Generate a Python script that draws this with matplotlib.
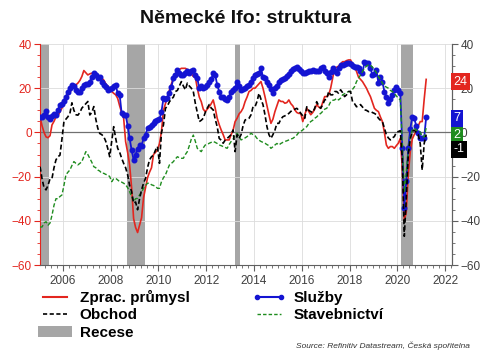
import numpy as np
import pandas as pd
import matplotlib
matplotlib.use('Agg')
import matplotlib.pyplot as plt
import matplotlib.transforms as mtransforms
from matplotlib.patches import Patch
from matplotlib.lines import Line2D
from matplotlib.ticker import MultipleLocator

plt.rcParams['font.family'] = ['Liberation Sans', 'DejaVu Sans']

# Ifo business climate by sector, monthly 2005-01 .. 2021-03
prumysl = [
    7, 3, 0, -2, -2.4, -1.5, 3.4, 5, 7, 7.5, 9.4, 11,                   # 2005
    12.6, 15, 17, 18, 20, 20.5, 21.5, 22.3, 23.5, 25.3, 28, 27,          # 2006
    26, 26.5, 26.8, 26, 25, 26, 25, 24.5, 23.7, 22, 21, 20,              # 2007
    18.5, 17.7, 17, 15.4, 12, 9, 6.4, -4.2, -9, -14.7, -25, -39,         # 2008
    -43, -45.3, -42, -38.6, -29.5, -25, -20.5, -18, -16, -10, -9, -8,    # 2009
    -5, 0.4, 10, 13, 16, 19.2, 22, 24.5, 26, 28.3, 28.5, 29,             # 2010
    29, 29, 28.5, 27.6, 26.5, 25.3, 25, 20, 16, 13.9, 10.5, 9.4,         # 2011
    10.5, 11.6, 13, 14.7, 11, 6.4, 3.5, 1.1, -1, -3.4, -3.4, -3.4,       # 2012
    -1, 1, 4.9, 6.4, 8.4, 9.4, 11, 13.9, 16, 18.5, 19, 20,               # 2013
    20, 21, 22, 23, 20, 16.2, 12, 8, 4.1, 6, 9.4, 12,                    # 2014
    14.7, 14, 14, 13.2, 13.5, 14.7, 13, 12, 10.2, 9, 8.6, 8.6,           # 2015
    4.9, 8, 10.9, 9.5, 8, 9, 10.5, 12.6, 11.5, 10.9, 13.5, 16.2,         # 2016
    16.2, 17, 20, 24.5, 29, 29.5, 30, 31, 32, 32, 32.5, 32.8,            # 2017
    32.8, 31, 29.5, 27.6, 25, 24, 23, 21.5, 20, 18, 16.2, 13.5,          # 2018
    10.9, 10, 9.4, 7, 4.9, 0, -5.7, -7.2, -6.4, -6.4, -7.2, -6,          # 2019
    -4.9, -2.7, -16, -40, -36, -19, -8.7, -3, -1, 0.4, 3, 4.9,           # 2020
    4.9, 15, 24,                                                         # 2021
]

sluzby = [
    7, 7, 8, 9.5, 7, 6, 7.5, 8.3, 8, 10, 12.6, 13,                       # 2005
    14, 16, 18.5, 20, 21.5, 21, 19, 18.5, 18.5, 20, 21.5, 22,            # 2006
    22, 23, 25, 26.8, 26, 24.5, 25, 23, 21.5, 20.5, 19.3, 19.5,          # 2007
    20, 21, 21.5, 17.7, 17, 8.6, 8, 8, 3, -2.7, -8, -12.4,               # 2008
    -10, -7.3, -5.7, -6, -2.7, -1, 1.9, 2.5, 3.5, 4.1, 5, 5.6,           # 2009
    6, 9.4, 15.4, 15, 15.4, 18, 20.7, 24.5, 26, 28.3, 27, 26,            # 2010
    26, 27, 27.6, 27, 28, 28.3, 26, 24.5, 20, 21, 20, 20.7,              # 2011
    21.5, 23, 24, 26.8, 26, 21.5, 18.5, 16.2, 16, 15, 14.7, 16,          # 2012
    18.5, 19, 20, 23, 21, 19, 19.5, 20, 21, 21.5, 23, 24.5,              # 2013
    26, 26.5, 27, 29, 25, 24.5, 23, 21.5, 19.5, 17.7, 20, 21,            # 2014
    23, 23.5, 24, 24.5, 25.5, 26.5, 27.6, 28.5, 29, 29.8, 28.5, 28,      # 2015
    26.8, 27, 27.5, 27.6, 28, 28.3, 28, 27.6, 28, 29, 29.8, 28,          # 2016
    27, 25.3, 27.5, 29, 28, 27, 29, 30.5, 30.5, 31, 31.3, 31.5,          # 2017
    31, 30, 29.8, 29.5, 29, 28, 26.8, 32, 31.5, 31.3, 29, 26,            # 2018
    26.5, 28.3, 22.3, 25.3, 23, 18.5, 16, 13.2, 15, 17, 19, 20.7,        # 2019
    19, 17.7, -7, -34, -22, -7, 1.6, 6.8, 6.4, 3, -0.4, -2.4,            # 2020
    -2.4, -2.4, 7,                                                       # 2021
]

obchod = [
    -15.5, -21, -25, -26, -24, -21, -20.8, -16, -12.4, -11, -10.3, -3,   # 2005
    4.9, 6, 7.1, 8.6, 13.4, 10, 8, 7.8, 9, 11, 12, 13,                   # 2006
    14, 7.9, 9, 11.7, 6, 1.9, -0.5, -1, -1.9, -4, -7.2, -11,             # 2007
    -4, 2.6, -2.7, -7.2, -9, -11.7, -14, -16, -19.2, -24, -26.8, -32,    # 2008
    -31.5, -35, -30, -26, -23, -20.8, -16, -12.4, -11, -10.3, -8, -6.4,  # 2009
    -14, 0, 3.4, 10.9, 12, 13.9, 15, 16, 18.5, 19, 21, 23,               # 2010
    21, 19.3, 22.3, 21, 20, 18.5, 13.2, 9, 4.9, 5.5, 6.4, 9,             # 2011
    11, 12.6, 11, 10.2, 6, 2.6, -2.7, -3.5, -4.9, -3.5, -2.7, -1.9,      # 2012
    -1, 1.1, -8.7, -1, -2.7, -1, 3, 5.6, 6, 6.4, 8, 11.6,                # 2013
    11.6, 14, 17.7, 15, 12.6, 8, 2.6, -1, -2.7, -1, 1, 4.1,              # 2014
    4.1, 6, 7.1, 7.5, 8, 8.6, 9.5, 10.2, 10.5, 10.9, 10, 8.6,            # 2015
    7.5, 6.4, 11.6, 10, 9.4, 9, 11, 13.9, 12, 10.9, 12.5, 14.7,          # 2016
    15, 18.5, 17, 17, 18.5, 18.5, 17.7, 19.3, 18, 16.2, 17, 18.5,        # 2017
    18.5, 13.9, 13, 11.6, 12, 12.6, 11.5, 10.2, 10, 9.4, 9.5, 9,         # 2018
    8.6, 8, 6.4, 5.5, 4.9, 2, -1.1, -2.5, -3.4, -2.5, -1.9, 0,           # 2019
    0.4, 0.8, -11.7, -47, -30, -10, -3, 0.4, 1, 0, -1.1, -5,             # 2020
    -17, -5, -1,                                                         # 2021
]

stavebnictvi = [
    -42.8, -42.8, -41, -40.4, -42, -41, -37.5, -33, -30, -30, -29, -28.3,        # 2005
    -24, -19.2, -18, -17, -15, -13.2, -14, -14.7, -14, -13.2, -11, -8.7,         # 2006
    -10, -11.7, -13.5, -15.5, -16, -17, -17.5, -18.5, -18.5, -19, -19.2, -20,    # 2007
    -22.3, -21, -20.8, -21.5, -22.3, -22.5, -23, -23.7, -25, -26.8, -29, -31.3,  # 2008
    -30, -29.8, -28.3, -27, -25.3, -24, -23, -23, -23.7, -24, -24.5, -25.3,      # 2009
    -25.3, -22.3, -20.5, -19.2, -17, -14.7, -14, -13.2, -12, -11, -11.5, -11.7,  # 2010
    -11.7, -10, -8.7, -6, -3, -1.2, -4, -7.2, -8, -8.7, -7, -5.7,                # 2011
    -5.5, -4.9, -4.5, -4.1, -4.5, -5, -5.7, -6, -6.4, -6.8, -7.2, -5.5,          # 2012
    -4.1, -3, -1.2, -0.4, -1.9, -3.4, -3, -2.5, -1.9, -1.2, -0.4, -1,            # 2013
    -1.5, -2.7, -3.5, -4.1, -4.5, -4.9, -5.5, -6, -7.2, -6.5, -5.7, -5,          # 2014
    -5.7, -5, -4.5, -4.1, -3.8, -3.4, -3, -2.7, -2, -1.2, 0, 0.5,                # 2015
    1.1, 2, 2.6, 4, 4.9, 5.5, 6.4, 7, 8, 8.6, 9.5, 10.5,                         # 2016
    10.9, 12, 13.9, 14.5, 14.7, 15.4, 14.7, 15.5, 17, 17.5, 18, 18.5,            # 2017
    18.5, 19.5, 20.7, 23, 24.5, 26, 27.5, 29, 30, 30.5, 30.5, 29.5,              # 2018
    28.3, 27, 25.3, 24, 22.3, 21, 20.5, 20, 19, 18.5, 17.7, 16.5,                # 2019
    15.5, 14.7, -5, -27, -18, -8, -2, 1, 2, 1, 1, 0,                             # 2020
    -2, -2, 2,                                                                   # 2021
]

# recession periods (decimal years)
recese_od = [2005.0, 2008.69, 2013.2, 2020.17]
recese_do = [2005.41, 2009.43, 2013.42, 2020.66]

# last values shown in the boxes on the right
posledni = ['24', '7', '2', '-1']

months = pd.date_range('2005-01-01', periods=len(prumysl), freq='MS')
t = np.asarray(months.year + (months.month - 0.5) / 12)

RED = '#e3261f'
BLUE = '#1414d2'
GREEN = '#1e8c1e'
BLACK = '#000000'
GRAY_TXT = '#404040'

fig = plt.figure(figsize=(4.91, 3.57), dpi=100)
ax = fig.add_axes([0.0815, 0.2577, 0.8391, 0.619])

for s, e in zip(recese_od, recese_do):
    ax.axvspan(s, e, color='#a6a6a6', lw=0, zorder=0.5)

ax.axhline(0, color='#707070', lw=0.9, zorder=0.8)

ax.plot(t, prumysl, color=RED, lw=1.2, zorder=2)
ax.plot(t, sluzby, color=BLUE, lw=1.3, marker='o', ms=3.3, zorder=3)
ax.plot(t, stavebnictvi, color=GREEN, lw=1.0, dashes=(3, 1.6), zorder=4)
ax.plot(t, obchod, color=BLACK, lw=1.2, dashes=(3, 1.6), zorder=5)

ax.set_xlim(2005.04, 2022.29)
ax.set_ylim(-60, 40)
ax.xaxis.set_major_locator(MultipleLocator(2))
ax.xaxis.set_minor_locator(MultipleLocator(0.25))
ax.yaxis.set_major_locator(MultipleLocator(20))
ax.yaxis.set_minor_locator(MultipleLocator(5))
ax.grid(True, which='major', color='#dcdcdc', lw=0.6, zorder=0)
ax.set_axisbelow(True)

ax.spines['top'].set_visible(False)
ax.spines['left'].set_color(RED)
ax.spines['right'].set_color('#606060')
ax.spines['bottom'].set_color('#606060')
ax.tick_params(axis='y', which='both', colors=RED, labelsize=8.5, pad=2)
ax.tick_params(axis='y', which='major', length=4)
ax.tick_params(axis='y', which='minor', length=2)
ax.tick_params(axis='x', which='both', colors='#606060', labelcolor=GRAY_TXT,
               labelsize=8.5)
ax.tick_params(axis='x', which='major', length=4)
ax.tick_params(axis='x', which='minor', length=2)

ax2 = ax.twinx()
ax2.set_ylim(ax.get_ylim())
ax2.yaxis.set_major_locator(MultipleLocator(20))
ax2.yaxis.set_minor_locator(MultipleLocator(5))
for sp in ['top', 'left', 'bottom']:
    ax2.spines[sp].set_visible(False)
ax2.spines['right'].set_color('#606060')
ax2.tick_params(axis='y', which='both', colors='#606060', labelcolor=GRAY_TXT,
                labelsize=8.5, pad=2)
ax2.tick_params(axis='y', which='major', length=4)
ax2.tick_params(axis='y', which='minor', length=2)

# boxes with the latest values
trans = mtransforms.blended_transform_factory(ax2.transAxes, ax2.transData)
box_y = [23, 6.3, -1.3, -7.7]
for txt, y, c in zip(posledni, box_y, [RED, BLUE, GREEN, BLACK]):
    ax2.text(1.004, y, txt, transform=trans, ha='left', va='center',
             color='white', fontsize=9, zorder=10, clip_on=False,
             bbox=dict(boxstyle='square,pad=0.18', fc=c, ec='none'))

fig.text(0.5, 0.948, 'Německé Ifo: struktura', ha='center', va='center',
         fontsize=14, fontweight='bold', color='#111111')

handles = [
    Line2D([], [], color=RED, lw=1.5),
    Line2D([], [], color=BLACK, lw=1.2, dashes=(2.5, 1.5)),
    Patch(facecolor='#a6a6a6', edgecolor='none'),
    Line2D([], [], color=BLUE, lw=1.5, marker='o', ms=3),
    Line2D([], [], color=GREEN, lw=1.0, dashes=(2.5, 1.5)),
]
labels = ['Zprac. průmysl', 'Obchod', 'Recese', 'Služby', 'Stavebnictví']
fig.legend(handles, labels, loc='upper left', bbox_to_anchor=(0.078, 0.188),
           ncol=2, frameon=False, prop={'size': 11, 'weight': 'bold'},
           handlelength=2.2, handletextpad=0.5, columnspacing=4.1,
           labelspacing=0.22, borderpad=0, borderaxespad=0, numpoints=2)

fig.text(0.957, 0.02, 'Source: Refinitiv Datastream, Česká spořitelna',
         ha='right', va='bottom', fontsize=6, style='italic', color='#333333')

fig.savefig('out.png', dpi=100)
